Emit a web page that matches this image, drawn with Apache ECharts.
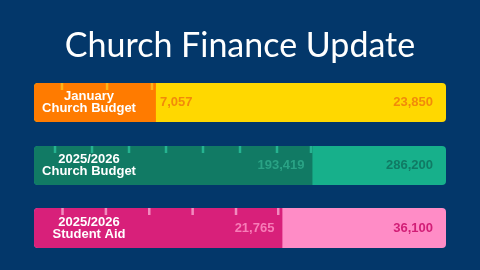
<!DOCTYPE html>
<html>
<head>
<meta charset="utf-8">
<script src="https://cdn.jsdelivr.net/npm/echarts@6/dist/echarts.min.js"></script>
<style>html,body{margin:0;padding:0;background:#03376a;}#c{width:480px;height:270px;}</style>
</head>
<body>
<div id="c"></div>
<script>
var title = 'Church Finance Update';
var names = ['January\nChurch Budget', '2025/2026\nChurch Budget', '2025/2026\nStudent Aid'];
var actuals = [7057, 193419, 21765];
var totals = [23850, 286200, 36100];
var ticks1 = [1620, 4230, 6830];
var ticks2 = [14600, 40300, 66000, 91700, 117400, 143100, 168800, 192400];
var ticks3 = [2500, 6300, 10100, 13900, 17700, 21400];

var tickSets = [ticks1, ticks2, ticks3];
var trackColors = ['#ffd800', '#17b08b', '#ff8cc6'];
var fillColors = ['#ff7b00', '#117a64', '#d8207a'];
var tickColors = ['#ffc21c', '#2cc29c', '#f7a6cf'];
var fillLabelColors = ['#f28a0a', '#2aa385', '#f77db8'];
var trackLabelColors = ['#f28a0a', '#107a64', '#d21e76'];
var tops = [83, 146, 208];
var heights = [39, 39, 40];

function fmt(v) { return v.toLocaleString('en-US'); }

var grids = [], xAxes = [], yAxes = [], series = [];
for (var i = 0; i < 3; i++) {
  grids.push({left: 34, width: 412, top: tops[i], height: heights[i]});
  xAxes.push({type: 'value', gridIndex: i, min: 0, max: totals[i], show: false});
  yAxes.push({
    type: 'category', gridIndex: i, data: [names[i]],
    axisLine: {show: false}, axisTick: {show: false},
    axisLabel: {inside: true, margin: 55, align: 'center', color: '#fff', fontWeight: 'bold',
      fontFamily: 'Liberation Sans, Arial, sans-serif', fontSize: 13, lineHeight: 12}, z: 10
  });
  series.push({
    type: 'bar', xAxisIndex: i, yAxisIndex: i, data: [totals[i]], barWidth: '100%', barGap: '-100%',
    itemStyle: {color: trackColors[i], borderRadius: 4}, silent: true, z: 1,
    label: {show: true, position: 'insideRight', distance: 13, formatter: function (p) { return fmt(p.value); },
      color: trackLabelColors[i], fontWeight: 'bold', fontSize: 13, fontFamily: 'Liberation Sans, Arial, sans-serif'}
  });
  series.push({
    type: 'bar', xAxisIndex: i, yAxisIndex: i, data: [actuals[i]], barWidth: '100%', barGap: '-100%',
    itemStyle: {color: fillColors[i], borderRadius: [4, 0, 0, 4]}, silent: true, z: 2,
    label: {show: true, position: i === 0 ? 'right' : 'insideRight', distance: i === 0 ? 4 : 8,
      formatter: function (p) { return fmt(p.value); },
      color: fillLabelColors[i], fontWeight: 'bold', fontSize: 13, fontFamily: 'Liberation Sans, Arial, sans-serif'}
  });
  series.push({
    type: 'scatter', xAxisIndex: i, yAxisIndex: i,
    data: tickSets[i].map(function (v) { return [v, 0]; }),
    symbol: 'rect', symbolSize: [2.5, 7], symbolOffset: [0, -heights[i] / 2 + 3.5],
    itemStyle: {color: tickColors[i]}, silent: true, z: 3
  });
}

var chart = echarts.init(document.getElementById('c'));
chart.setOption({
  backgroundColor: '#03376a',
  animation: false,
  title: {text: title, left: 'center', top: 24,
    textStyle: {color: '#fff', fontFamily: 'Lato', fontWeight: 'normal', fontSize: 34}},
  grid: grids, xAxis: xAxes, yAxis: yAxes, series: series
});
</script>
</body>
</html>
